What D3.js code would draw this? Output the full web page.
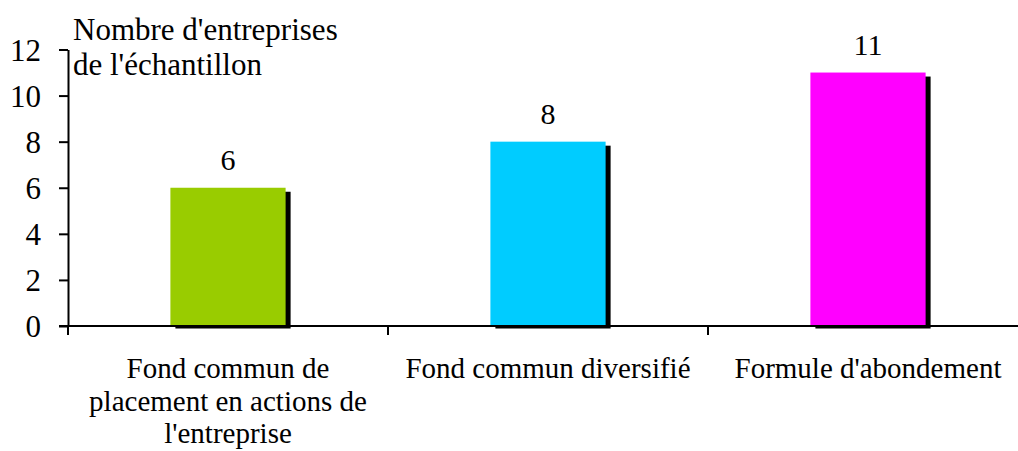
<!DOCTYPE html>
<html><head><meta charset="utf-8">
<script src="https://cdn.jsdelivr.net/npm/d3@7"></script>
<style>body{margin:0;background:#fff}svg{display:block}text{font-family:"Liberation Serif","Times New Roman",serif;fill:#000}</style>
</head><body><svg id="c" width="1018" height="451"></svg>
<script>
const categories = [["Fond commun de","placement en actions de","l'entreprise"],["Fond commun diversifié"],["Formule d'abondement"]];
const values = [6, 8, 11];
const colors = ["#99cc00", "#00ccff", "#ff00ff"];
const yTicks = [0, 2, 4, 6, 8, 10, 12];
const yTitle = ["Nombre d'entreprises", "de l'échantillon"];

const svg = d3.select("#c");
const x = d3.scaleBand().domain(d3.range(values.length)).range([68, 1028]).padding(0);
const y = d3.scaleLinear().domain([0, 12]).range([326, 49.5]);
const bw = x.bandwidth() * 0.36;
const g = svg.append("g");

// shadows
g.selectAll("rect.sh").data(values).join("rect")
  .attr("x", (d,i) => x(i) + (x.bandwidth()-bw)/2 + 5)
  .attr("y", d => y(d) + 4)
  .attr("width", bw)
  .attr("height", d => y(0) - y(d) - 1.5)
  .attr("fill", "#000");
// bars
g.selectAll("rect.b").data(values).join("rect")
  .attr("x", (d,i) => x(i) + (x.bandwidth()-bw)/2)
  .attr("y", d => y(d))
  .attr("width", bw)
  .attr("height", d => y(0) - y(d))
  .attr("fill", (d,i) => colors[i]);

// y axis
const ya = svg.append("g").attr("transform", "translate(68,0)")
  .call(d3.axisLeft(y).tickValues(yTicks).tickSize(9).tickSizeOuter(0).tickPadding(18));
ya.select(".domain").attr("stroke", "#000").attr("stroke-width", 2);
ya.selectAll(".tick line").attr("stroke-width", 2);
ya.selectAll(".tick text").style("font-size", "31px").attr("dy", "0.34em");
// extend y axis below baseline
svg.append("line").attr("x1", 68).attr("x2", 68).attr("y1", y(0)).attr("y2", y(0) + 9).attr("stroke", "#000").attr("stroke-width", 2);

// x axis
svg.append("line").attr("x1", 59).attr("x2", 1018).attr("y1", y(0)).attr("y2", y(0)).attr("stroke", "#000").attr("stroke-width", 2);
x.domain().slice(1).forEach(i => {
  svg.append("line").attr("x1", x(i)).attr("x2", x(i)).attr("y1", y(0)).attr("y2", y(0) + 9).attr("stroke", "#000").attr("stroke-width", 2);
});

// value labels
svg.selectAll("text.v").data(values).join("text")
  .attr("x", (d,i) => x(i) + x.bandwidth()/2)
  .attr("y", d => y(d) - 18)
  .attr("text-anchor", "middle").style("font-size", "30px")
  .text(d => d);

// category labels
categories.forEach((lines, i) => {
  const cx = x(i) + x.bandwidth()/2;
  const t = svg.append("text").attr("text-anchor", "middle").style("font-size", "29px");
  lines.forEach((l, j) => t.append("tspan").attr("x", cx).attr("y", 378 + j*32.5).text(l));
});

// y title
yTitle.forEach((l, j) => svg.append("text").attr("x", 73).attr("y", 40 + j*35)
  .style("font-size", "31px").text(l));
</script></body></html>
